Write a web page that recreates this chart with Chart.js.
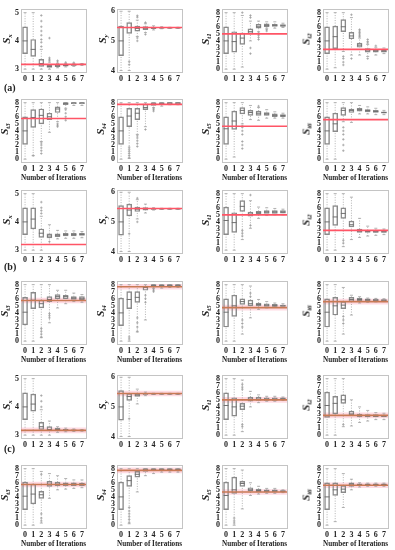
<!DOCTYPE html>
<html lang="en">
<head>
<meta charset="UTF-8" />
<title>Box plots per iteration</title>
<style>
  body { margin: 0; background: #fff; }
  #fig { position: relative; width: 395px; height: 550px; font-family: 'Liberation Serif', 'Times New Roman', serif; color: #222; }
  #fig canvas { position: absolute; }
  .ylab { position: absolute; transform: translate(-50%, -50%) rotate(-90deg); font-weight: bold; font-style: italic; font-size: 11px; line-height: 1; white-space: nowrap; }
  .ylab sub { font-size: 7px; vertical-align: -2px; line-height: 1; }
  .tag { position: absolute; font-weight: bold; font-size: 10px; }
</style>
</head>
<body>
<div id="fig"></div>

<script src="https://cdn.jsdelivr.net/npm/chart.js"></script>
<script>
  // each entry: [whisker low, q1, median, q3, whisker high, ...outliers]
  const ITER = [0, 1, 2, 3, 4, 5, 6, 7];
  const TICKS_SX = [3, 4, 5];
  const TICKS_SY = [4, 5, 6];
  const TICKS_ST = [0, 1, 2, 3, 4, 5, 6, 7, 8];

  // (a)
  const A_SX = [[3.0,3.55,4.0,4.5,5.0],[3.0,3.45,3.7,4.05,5.0],[3.0,3.1,3.2,3.35,3.7,3.8,3.95,4.05,4.2,4.35,4.5,4.7,4.9],[3.0,3.06,3.1,3.14,3.25,3.3,3.35,3.4,4.1],[3.05,3.09,3.12,3.15,3.2,3.25,3.3],[3.08,3.11,3.13,3.16,3.2,3.24],[3.1,3.13,3.15,3.17,3.2,3.23],[3.13,3.15,3.17,3.18,3.2]];
  const A_SY = [[4.0,4.5,5.0,5.5,6.0],[4.0,5.25,5.45,5.62,6.0,4.2,4.3],[5.15,5.33,5.42,5.5,5.7,5.0,5.1,5.8,5.85],[5.28,5.38,5.43,5.48,5.58,5.22,5.62],[5.37,5.41,5.44,5.47,5.51],[5.41,5.43,5.44,5.46,5.48],[5.42,5.43,5.44,5.45,5.46],[5.42,5.43,5.44,5.45,5.46]];
  const A_ST1 = [[0,2.2,4.0,6.0,8],[0,2.4,3.9,5.3,8],[0.3,3.5,4.4,5.1,7.6,8.0],[4.0,5.0,5.3,5.7,6.8,7.3,7.6,3.0,2.2],[5.3,5.8,6.0,6.35,6.8,4.2,4.5,4.8,5.0,5.1],[5.8,6.0,6.2,6.4,6.7,5.4,5.6],[5.8,6.05,6.2,6.35,6.7],[5.9,6.05,6.15,6.3,6.5]];
  const A_ST2 = [[0,2.2,4.0,6.0,8],[0.2,2.9,4.6,6.1,8],[2.5,5.3,6.0,7.0,8,1.8,1.5,1.0,0.6],[2.0,4.3,4.7,5.2,7.3,7.7,1.5],[2.0,3.1,3.4,3.7,4.4,4.6,4.8,5.0,5.2,5.4,5.6],[1.8,2.4,2.7,2.9,3.5,3.7,3.9,4.2,1.5],[2.0,2.4,2.6,2.8,3.1,3.3],[2.2,2.4,2.55,2.7,3.0]];
  const A_ST3 = [[0,2.1,4.0,6.0,8],[0.5,4.5,5.9,7.0,8,0.5],[2.5,5.0,6.2,7.1,8,0.8,1.2,1.6,2.0,2.3],[3.8,5.6,6.0,6.5,8],[5.3,6.6,7.1,7.4,8,4.6,4.8,5.0],[7.2,7.7,7.9,8.0,8.0,5.5,6.0,6.5,7.0],[7.6,7.85,7.95,8.0,8.0],[7.6,7.85,7.95,8.0,8.0]];
  const A_ST4 = [[0,2.1,4.0,6.0,8],[0.1,4.6,6.1,7.2,8,0.2,0.5,0.8,1.1,1.4,1.7],[3.5,5.6,6.5,7.2,8,1.8,2.2,2.6,3.0,3.3],[4.6,7.0,7.3,7.8,8,4.2],[7.3,7.6,7.8,8.0,8,6.8,7.0,7.2],[7.5,7.75,7.9,8.0,8],[7.7,7.85,7.95,8.0,8],[7.7,7.85,7.95,8.0,8]];
  const A_ST5 = [[0,2.1,4.3,6.0,8],[0.3,4.2,5.4,6.8,8],[5.0,6.4,6.9,7.3,8,1.5,2.0,2.5,3.5,4.0,4.5,4.7],[5.6,6.2,6.6,6.9,7.6],[5.5,6.2,6.5,6.8,7.3,7.5],[5.8,6.2,6.4,6.6,7.0],[5.8,6.0,6.2,6.4,6.7],[5.8,6.0,6.15,6.3,6.5]];
  const A_ST6 = [[0,2.1,4.0,6.0,8],[0,3.9,5.0,6.5,8],[5.3,6.2,6.9,7.3,8,1.2,2.0,2.8,3.5,4.0,4.5],[5.2,6.6,6.9,7.1,8],[6.4,6.8,7.0,7.2,7.6],[6.4,6.7,6.9,7.0,7.4],[6.3,6.6,6.75,6.9,7.2],[6.3,6.5,6.6,6.7,6.9]];
  const REF_A = [3.17, 5.45, 5.0, 2.8, 5.75, 7.75, 4.65, 5.6];

  // (b)
  const B_SX = [[3.0,3.55,4.0,4.5,5.0],[3.0,3.75,4.1,4.5,5.0],[3.0,3.45,3.6,3.75,4.2,4.3,4.4,4.5,4.7],[3.2,3.43,3.5,3.58,3.9,3.3],[3.4,3.48,3.53,3.58,3.7],[3.42,3.5,3.55,3.6,3.68],[3.42,3.5,3.55,3.6,3.68],[3.44,3.52,3.56,3.6,3.66]];
  const B_SY = [[4.0,4.55,5.0,5.55,6.0],[4.0,5.2,5.4,5.6,6.0,4.6],[5.1,5.35,5.43,5.5,5.75,5.0,5.8],[5.3,5.4,5.44,5.48,5.6],[5.4,5.42,5.44,5.46,5.48],[5.42,5.43,5.44,5.45,5.46],[5.42,5.43,5.44,5.45,5.46],[5.42,5.43,5.44,5.45,5.46]];
  const B_ST1 = [[0,2.2,4.2,6.1,8],[0,2.5,3.9,5.3,8],[1.5,5.5,6.2,7.0,8,2.0,2.4,2.8],[3.1,4.8,5.1,5.4,7.0,7.8,3.5],[4.5,5.1,5.3,5.5,6.1],[4.9,5.2,5.4,5.6,6.0],[5.0,5.2,5.4,5.6,5.9],[5.0,5.25,5.4,5.6,5.8]];
  const B_ST2 = [[0,2.2,4.0,6.0,8],[0,3.5,4.7,6.3,8],[0.5,4.5,5.2,6.0,8,1.0,1.4],[1.5,3.3,3.6,4.1,7.5],[1.8,2.5,2.7,3.0,4.5],[2.0,2.5,2.65,2.8,3.4],[2.1,2.5,2.6,2.8,3.1],[2.2,2.5,2.6,2.8,3.0]];
  const B_ST3 = [[0,2.3,4.1,6.2,8],[0,4.6,5.8,6.9,8],[0.5,4.7,5.3,5.8,8,0.6,1.0,1.4,1.8],[2.6,5.6,5.9,6.3,8,3.3,3.6,3.9],[4.7,6.0,6.3,6.6,7.2],[5.3,6.0,6.3,6.5,7.2],[5.6,5.9,6.1,6.3,6.8],[5.5,5.8,6.0,6.3,6.6]];
  const B_ST4 = [[0,2.2,4.0,6.1,8],[0,4.6,5.9,7.0,8,0.3,0.6],[1.3,5.5,6.2,7.0,8,1.4,2.0,2.6,3.3],[3.0,7.2,7.6,7.8,8,5.5,6.0,6.5],[7.5,7.7,7.9,8.0,8,7.0,7.2,7.4],[7.5,7.7,7.85,8.0,8],[7.6,7.75,7.9,8.0,8],[7.6,7.75,7.9,8.0,8]];
  const B_ST5 = [[0,2.0,4.1,6.0,8],[0,3.5,5.0,6.5,8],[1.0,5.2,5.6,6.0,8,2.0,2.5,3.0],[3.3,5.0,5.3,5.8,7.8,6.3,6.8],[4.5,5.0,5.2,5.4,5.9],[4.7,4.9,5.1,5.3,5.6],[4.8,4.9,5.0,5.2,5.4],[4.8,4.9,5.0,5.1,5.3]];
  const B_ST6 = [[0,2.0,4.1,6.0,8],[0,3.7,5.0,6.2,8],[1.0,4.6,5.1,5.6,7.6,2.5,3.0,3.5],[3.7,5.6,5.9,6.2,6.5],[5.4,5.7,5.9,6.1,6.3],[5.5,5.7,5.85,6.0,6.1],[5.55,5.7,5.8,5.95,6.05],[5.6,5.7,5.8,5.9,6.0]];
  const REF_B = [3.2, 5.45, 5.0, 2.8, 5.75, 7.7, 4.75, 5.6];

  // (c)
  const C_SX = [[3.0,3.55,4.0,4.5,5.0],[3.0,3.85,4.1,4.45,5.0],[3.0,3.2,3.3,3.45,3.9,4.0,4.2,4.4],[3.0,3.15,3.2,3.3,3.5],[3.1,3.15,3.2,3.25,3.3],[3.12,3.15,3.18,3.21,3.25],[3.13,3.15,3.17,3.19,3.22],[3.14,3.15,3.17,3.18,3.2]];
  const C_SY = [[4.0,4.55,5.0,5.55,6.0],[4.0,5.22,5.35,5.45,6.0,4.6],[5.1,5.35,5.4,5.45,5.6],[5.38,5.42,5.44,5.46,5.5],[5.42,5.43,5.44,5.45,5.46],[5.42,5.43,5.44,5.45,5.46],[5.42,5.43,5.44,5.45,5.46],[5.42,5.43,5.44,5.45,5.46]];
  const C_ST1 = [[0,2.2,4.2,6.0,8],[0,2.7,4.0,5.3,8],[0.5,3.6,4.1,4.5,7.8,6.5,6.8,7.2,1.2,1.5],[4.0,4.8,5.1,5.4,6.2],[4.6,4.9,5.1,5.4,5.7],[4.8,4.9,5.1,5.3,5.5],[4.8,4.9,5.1,5.3,5.5],[4.9,5.0,5.1,5.3,5.4]];
  const C_ST2 = [[0,2.5,4.2,6.1,8],[0,3.0,4.5,5.5,8],[1.2,4.5,5.0,5.7,8,1.5],[1.3,2.8,3.0,3.4,5.0],[1.8,2.6,2.8,3.0,4.0],[2.0,2.6,2.75,2.9,3.5],[2.2,2.6,2.7,2.9,3.2],[2.2,2.6,2.7,2.85,3.1]];
  const C_ST3 = [[0,2.2,4.1,6.1,8],[0,3.0,4.4,5.8,8],[0.3,3.8,4.3,4.8,7.6,0.6,1.0,1.6,7.2],[3.8,5.5,5.8,6.2,7.3],[5.0,5.6,5.8,6.1,7.0],[5.1,5.6,5.8,6.0,6.6],[5.2,5.6,5.8,6.0,6.4],[5.3,5.6,5.8,5.95,6.4]];
  const C_ST4 = [[0,2.2,4.0,6.1,8],[0.2,5.5,6.3,7.0,8,0.4,0.8,1.2,1.6,2.0,2.5],[4.7,6.8,7.2,7.6,8],[7.0,7.6,7.8,8.0,8],[7.3,7.7,7.85,8.0,8],[7.5,7.7,7.85,8.0,8],[7.5,7.7,7.85,8.0,8],[7.5,7.7,7.85,8.0,8]];
  const C_ST5 = [[0,2.2,4.2,6.1,8],[0,4.5,5.0,6.8,8,0.3,0.6,1.0],[2.3,5.5,5.9,6.2,7.8],[4.2,4.8,5.0,5.3,6.0],[4.4,4.7,4.9,5.1,5.5],[4.5,4.7,4.85,5.0,5.2],[4.5,4.7,4.85,5.0,5.2],[4.6,4.7,4.8,4.9,5.0]];
  const C_ST6 = [[0,2.2,4.0,6.0,8],[0.5,4.2,5.0,6.0,8],[2.5,4.6,5.1,5.6,7.3],[5.0,5.5,5.8,6.0,6.5],[5.4,5.6,5.75,5.85,6.0],[5.5,5.65,5.75,5.85,5.95],[5.5,5.65,5.75,5.85,5.95],[5.5,5.65,5.75,5.85,5.95]];
  const REF_C = [3.17, 5.45, 5.0, 2.8, 5.75, 7.75, 4.7, 5.65];

  const SUBS = [['x', 'y', 't1', 't2'], ['t3', 't4', 't5', 't6']];
  const COL_LEFT = [21, 117, 222, 323];
  const ROW_TOP = [6, 96, 187, 278, 372, 462];
  const FRAME = 66;

  const fig = document.getElementById('fig');
  const tickFont = { family: "'Liberation Serif', 'Times New Roman', serif", weight: 'bold', size: 8 };
  const frameCol = '#c4c4c4';
  const noGrid = { display: false, drawTicks: false, tickLength: 0 };

  function makePanel(left, top, sub, stats, ref, hasTitle, band) {
    const yr = sub === 'x' ? [2.9, 5.1] : sub === 'y' ? [3.95, 6.05] : [-0.4, 8.4];
    const yt = sub === 'x' ? TICKS_SX : sub === 'y' ? TICKS_SY : TICKS_ST;
    const axisW = 17, bottomH = hasTitle ? 21 : 13;

    const cv = document.createElement('canvas');
    cv.width = axisW + FRAME + 4;
    cv.height = 3 + FRAME + bottomH;
    cv.style.left = (left - axisW) + 'px';
    cv.style.top = (top - 3) + 'px';
    fig.appendChild(cv);

    const lab = document.createElement('div');
    lab.className = 'ylab';
    lab.innerHTML = 'S<sub>' + sub + '</sub>';
    lab.style.left = (left - (sub.length > 1 ? 16 : 14)) + 'px';
    lab.style.top = (top + FRAME / 2) + 'px';
    fig.appendChild(lab);

    const boxes = [], meds = [], whisk = [], caps = [], outs = [];
    stats.forEach((s, i) => {
      const x = ITER[i];
      boxes.push({ x: x, y: [s[1], s[3]] });
      meds.push({ x: x, y: s[2] });
      whisk.push({ x: x, y: s[0] }, { x: x, y: s[1] }, { x: x, y: null },
                 { x: x, y: s[3] }, { x: x, y: s[4] }, { x: x, y: null });
      caps.push({ x: x, y: s[0] }, { x: x, y: s[4] });
      s.slice(5).forEach(v => outs.push({ x: x, y: v }));
    });

    const lineCol = band ? '#c97a55' : '#ff5566';
    const datasets = [
      { type: 'line', data: [{ x: -0.5, y: ref }, { x: 7.5, y: ref }], borderColor: lineCol, borderWidth: 1.6, pointRadius: 0 },
      { type: 'line', data: meds, showLine: false, pointStyle: 'line', pointRadius: 2.5, pointBorderColor: '#707070', pointBorderWidth: 1 },
      { type: 'bar', data: boxes, backgroundColor: 'rgba(255,255,255,0)', borderColor: '#8a8a8a', borderWidth: 0.8, borderSkipped: false, barThickness: 5 },
      { type: 'line', data: whisk, borderColor: '#a0a0a0', borderWidth: 0.8, borderDash: [1, 1.5], pointRadius: 0, spanGaps: false },
      { type: 'line', data: caps, showLine: false, pointStyle: 'line', pointRadius: 1.5, pointBorderColor: '#a0a0a0', pointBorderWidth: 0.8 },
      { type: 'line', data: outs, showLine: false, pointStyle: 'cross', pointRadius: 1.3, pointBorderColor: '#909090', pointBorderWidth: 0.6 }
    ];
    if (band) {
      const bw = (yr[1] - yr[0]) * 0.045;
      datasets.push({ type: 'line', data: [{ x: -0.5, y: ref + bw }, { x: 7.5, y: ref + bw }], borderWidth: 0, pointRadius: 0,
                      backgroundColor: 'rgba(255,165,185,0.4)', fill: { value: ref - bw } });
    }

    new Chart(cv, {
      type: 'bar',
      data: { datasets: datasets },
      options: {
        responsive: false,
        animation: false,
        events: [],
        layout: { padding: { top: 3, right: 4, left: 0, bottom: 0 } },
        plugins: { legend: { display: false }, tooltip: { enabled: false } },
        scales: {
          x: {
            type: 'linear', min: -0.5, max: 7.5, offset: false,
            afterBuildTicks: s => { s.ticks = ITER.map(v => ({ value: v })); },
            afterFit: s => { s.height = bottomH; },
            grid: noGrid,
            border: { color: frameCol },
            ticks: { font: tickFont, color: '#222', padding: 2, maxRotation: 0, autoSkip: false },
            title: { display: hasTitle, text: 'Number of Iterations', color: '#222', padding: 0,
                     font: { family: tickFont.family, weight: 'bold', size: 7.5 } }
          },
          y: {
            type: 'linear', min: yr[0], max: yr[1],
            afterBuildTicks: s => { s.ticks = yt.map(v => ({ value: v })); },
            afterFit: s => { s.width = axisW; },
            grid: noGrid,
            border: { color: frameCol },
            ticks: { font: tickFont, color: '#222', padding: 2, autoSkip: false }
          },
          x2: {
            type: 'linear', position: 'top', min: -0.5, max: 7.5,
            afterFit: s => { s.height = 0; },
            grid: noGrid, border: { color: frameCol }, ticks: { display: false }
          },
          y2: {
            type: 'linear', position: 'right', min: yr[0], max: yr[1],
            afterFit: s => { s.width = 0; },
            grid: noGrid, border: { color: frameCol }, ticks: { display: false }
          }
        }
      }
    });
  }

  const ROWS = [
    { stats: [A_SX, A_SY, A_ST1, A_ST2], refs: REF_A.slice(0, 4), subs: SUBS[0] },
    { stats: [A_ST3, A_ST4, A_ST5, A_ST6], refs: REF_A.slice(4), subs: SUBS[1] },
    { stats: [B_SX, B_SY, B_ST1, B_ST2], refs: REF_B.slice(0, 4), subs: SUBS[0] },
    { stats: [B_ST3, B_ST4, B_ST5, B_ST6], refs: REF_B.slice(4), subs: SUBS[1] },
    { stats: [C_SX, C_SY, C_ST1, C_ST2], refs: REF_C.slice(0, 4), subs: SUBS[0] },
    { stats: [C_ST3, C_ST4, C_ST5, C_ST6], refs: REF_C.slice(4), subs: SUBS[1] }
  ];

  ROWS.forEach((row, r) => {
    row.stats.forEach((st, c) => {
      makePanel(COL_LEFT[c], ROW_TOP[r], row.subs[c], st, row.refs[c], r % 2 === 1, r >= 3);
    });
  });

  ['(a)', '(b)', '(c)'].forEach((t, i) => {
    const d = document.createElement('div');
    d.className = 'tag';
    d.textContent = t;
    d.style.left = '4px';
    d.style.top = [82, 261, 443][i] + 'px';
    fig.appendChild(d);
  });
</script>
</body>
</html>
